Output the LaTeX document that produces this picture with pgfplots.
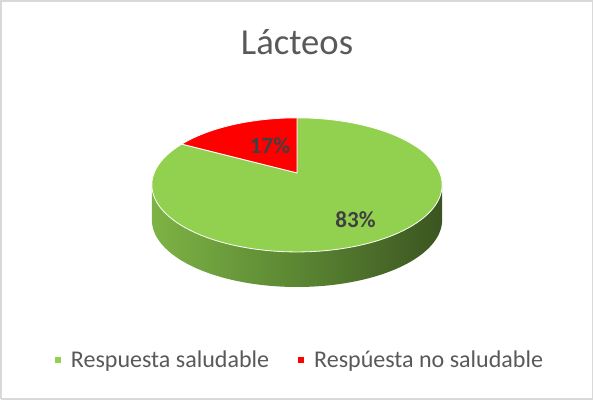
\documentclass[border=0pt]{standalone}
\usepackage{pgfplots}
\pgfplotsset{compat=1.18}
\usepackage{fontspec}
\setmainfont{Carlito}
\definecolor{pgreen}{HTML}{92D050}
\definecolor{pred}{HTML}{FF0000}
\definecolor{sideL}{HTML}{7DB345}
\definecolor{sideM}{HTML}{5B8632}
\definecolor{sideR}{HTML}{3B5521}
\definecolor{txtgray}{HTML}{595959}
\definecolor{lblgray}{HTML}{404040}
\begin{document}
\begin{tikzpicture}
\begin{axis}[
  scale only axis, width=593bp, height=400bp,
  xmin=0, xmax=593, ymin=0, ymax=400,
  hide axis, clip=false,
  legend style={at={(axis cs:300,40)}, anchor=center, draw=none, fill=none,
    legend columns=2, font=\fontsize{24bp}{28bp}\selectfont\color{txtgray},
    /tikz/every even column/.append style={column sep=27bp},
    legend cell align=left},
  legend image code/.code={\fill[#1, draw=none] (0bp,-3bp) rectangle (6bp,3bp); \path[draw=none, fill=none] (6bp,0bp) -- (14bp,0bp);},
]
% border
\addplot[draw=black!15, line width=1.5bp, forget plot] coordinates {(1,1) (592,1) (592,399) (1,399) (1,1)};
% side of the cylinder (front)
\addplot[draw=none, left color=sideL, right color=sideR, middle color=sideM, forget plot,
  domain=180:360, samples=90, variable=\t]
  ({297+145*cos(\t)},{180+67*sin(\t)}) -- (axis cs:442,215) -- (axis cs:152,215) -- cycle;
% top face (perspective view of the disk): 83 % green, 17 % red
\addplot[fill=pgreen, draw=white, line width=0.8bp, forget plot,
  domain={90+0.17*360}:450, samples=150, variable=\t]
  ({297+142.7*cos(\t)/(1+0.179*sin(\t))},{215+(67*sin(\t)+12)/(1+0.179*sin(\t))}) -- (axis cs:297,227) -- cycle;
\addplot[fill=pred, draw=white, line width=0.8bp, forget plot,
  domain=90:{90+0.17*360}, samples=40, variable=\t]
  ({297+142.7*cos(\t)/(1+0.179*sin(\t))},{215+(67*sin(\t)+12)/(1+0.179*sin(\t))}) -- (axis cs:297,227) -- cycle;
% data labels
\node[anchor=base, font=\fontsize{23bp}{26bp}\selectfont\bfseries, text=lblgray] at (axis cs:270,246.7) {17\%};
\node[anchor=base, font=\fontsize{23bp}{26bp}\selectfont\bfseries, text=lblgray] at (axis cs:355.5,172.7) {83\%};
% title
\node[anchor=base, font=\fontsize{36.6bp}{42bp}\selectfont, text=txtgray] at (axis cs:297,345) {Lácteos};
% legend
\addlegendimage{fill=pgreen, draw=none}
\addlegendentry{Respuesta saludable}
\addlegendimage{fill=pred, draw=none}
\addlegendentry{Respúesta no saludable}
\end{axis}
\end{tikzpicture}
\end{document}
